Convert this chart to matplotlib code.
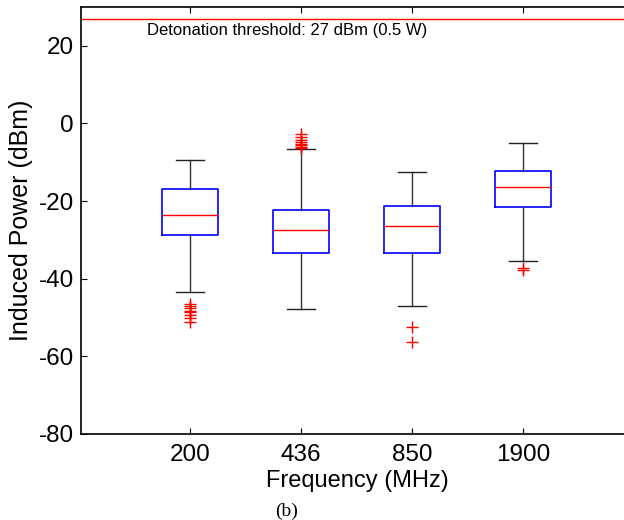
import matplotlib
matplotlib.use("Agg")
import matplotlib.pyplot as plt

# Data
categories = ["200", "436", "850", "1900"]
whisker_hi = [-9.5, -6.7, -12.5, -5.1]
q3 = [-17.0, -22.2, -21.3, -12.2]
medians = [-23.5, -27.4, -26.4, -16.4]
q1 = [-28.7, -33.3, -33.3, -21.5]
whisker_lo = [-43.4, -47.9, -46.9, -35.5]
outliers = [
    [-46.5, -47.0, -47.6, -48.2, -48.7, -49.3, -50.2, -51.2],
    [-2.7, -3.6, -4.3, -4.8, -5.2, -5.6, -6.0, -6.4],
    [-52.4, -56.4],
    [-37.2, -37.8],
]
threshold = 27
threshold_label = "Detonation threshold: 27 dBm (0.5 W)"

plt.rcParams["font.family"] = ["Liberation Sans", "DejaVu Sans"]
plt.rcParams["axes.unicode_minus"] = False

fig = plt.figure(figsize=(6.24, 5.2), dpi=100)
ax = fig.add_axes([81 / 624, 1 - 434 / 520, 553 / 624, 427 / 520])

stats = []
for i, c in enumerate(categories):
    stats.append(dict(label=c, med=medians[i], q1=q1[i], q3=q3[i],
                      whislo=whisker_lo[i], whishi=whisker_hi[i],
                      fliers=outliers[i]))

positions = list(range(1, len(categories) + 1))
ax.bxp(stats, positions=positions, widths=0.5, showfliers=True,
       boxprops=dict(color="blue", linewidth=1.2),
       medianprops=dict(color="red", linewidth=1.0),
       whiskerprops=dict(color="#333333", linewidth=1.0, linestyle="-"),
       capprops=dict(color="#222222", linewidth=1.0),
       flierprops=dict(marker="+", markeredgecolor="red", markersize=9,
                       markeredgewidth=1.0, linestyle="none"))

ax.axhline(threshold, color="red", linewidth=1.0)
ax.text(0.61, 26.0, threshold_label, fontsize=12, ha="left", va="top")

ax.set_xlim(0.02, 5.0)
ax.set_ylim(-80, 30)
ax.set_yticks([20, 0, -20, -40, -60, -80])
ax.set_xticks(positions)
ax.set_xticklabels(categories)
ax.tick_params(axis="both", direction="in", labelsize=17.5, length=4, width=0.8)
ax.tick_params(axis="x", top=True, pad=7)
ax.tick_params(axis="y", pad=5)
for s in ax.spines.values():
    s.set_linewidth(1.2)

ax.set_ylabel("Induced Power (dBm)", fontsize=18, labelpad=4)
ax.set_xlabel("Frequency (MHz)", fontsize=17, labelpad=3)

fig.text(287 / 624, 1 - 511 / 520, "(b)", fontsize=14, ha="center",
         va="center", family=["Liberation Serif", "DejaVu Serif"])

fig.savefig("out.png", dpi=100)
